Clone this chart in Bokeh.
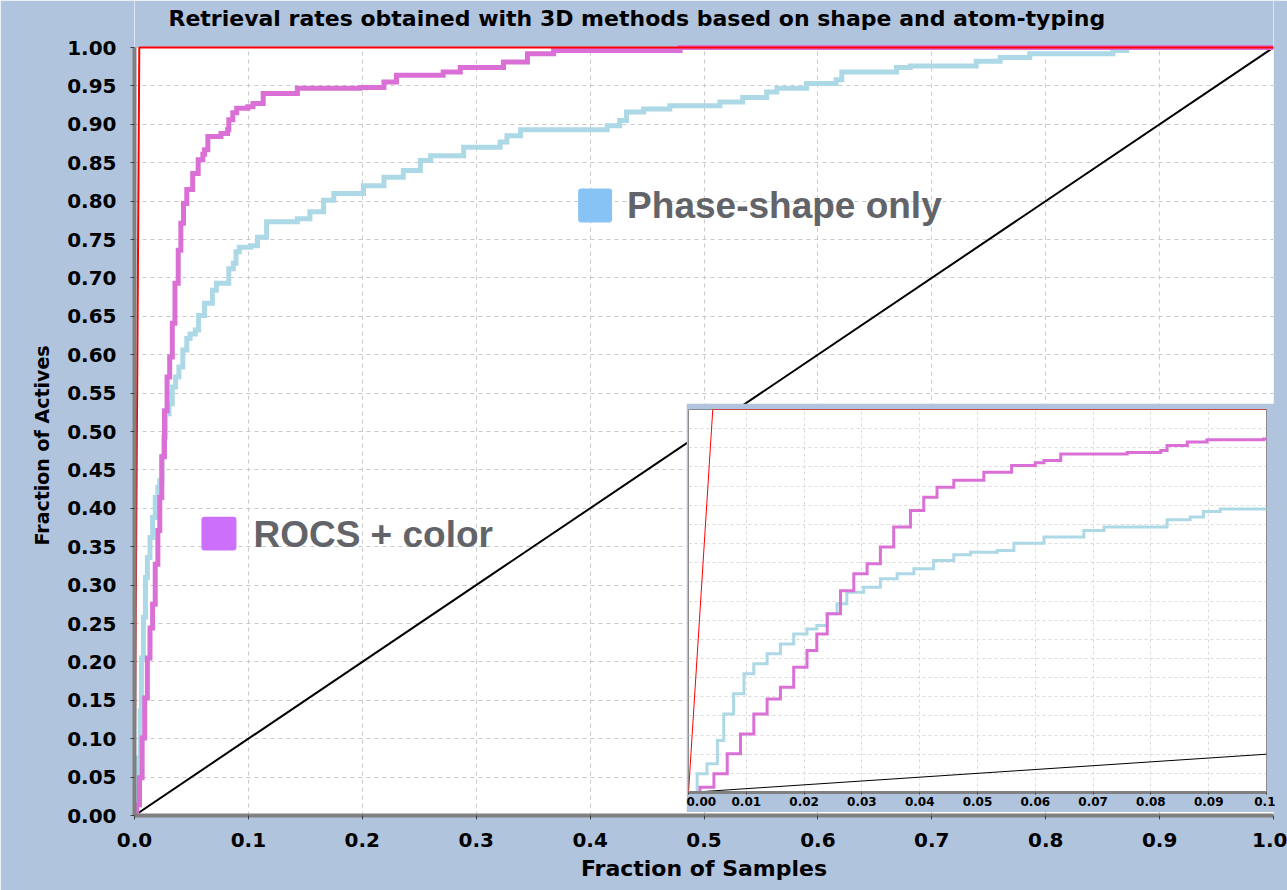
from bokeh.plotting import figure
from bokeh.models import Range1d, FixedTicker, BoxAnnotation, Label, Title
from bokeh.embed import file_html
from bokeh.resources import INLINE

# ---------------- data ----------------
rocs_x = [0.0, 0.002, 0.0044, 0.0067, 0.009, 0.0113, 0.0136, 0.0159, 0.0182, 0.0205,
          0.0222, 0.024, 0.0263, 0.0286, 0.0309, 0.0332, 0.0355, 0.0384, 0.0407, 0.043,
          0.0459, 0.0511, 0.0559, 0.0600, 0.0615, 0.0644, 0.0759, 0.0817, 0.0828, 0.0863,
          0.0897, 0.0995, 0.104, 0.113, 0.143, 0.198, 0.219, 0.230, 0.271, 0.286,
          0.324, 0.345, 0.368, 0.479, 1.0]
rocs_y = [0.0, 0.014, 0.049, 0.101, 0.153, 0.205, 0.244, 0.275, 0.327, 0.371,
          0.414, 0.467, 0.527, 0.571, 0.597, 0.641, 0.693, 0.736, 0.771, 0.797,
          0.815, 0.836, 0.854, 0.861, 0.867, 0.884, 0.888, 0.893, 0.906, 0.915,
          0.921, 0.923, 0.927, 0.940, 0.947, 0.948, 0.955, 0.964, 0.968, 0.974,
          0.981, 0.992, 0.996, 1.0, 1.0]

phase_x = [0.0, 0.0015, 0.0032, 0.005, 0.0061, 0.0078, 0.0096, 0.0113, 0.0136, 0.0159,
           0.0182, 0.0205, 0.0222, 0.024, 0.0257, 0.0274, 0.0303, 0.0332, 0.0361, 0.039,
           0.0424, 0.0459, 0.0488, 0.0534, 0.0563, 0.0615, 0.0684, 0.0719, 0.0828, 0.0868,
           0.0891, 0.092, 0.102, 0.108, 0.116, 0.143, 0.154, 0.166, 0.175, 0.201,
           0.219, 0.236, 0.251, 0.260, 0.289, 0.321, 0.327, 0.339, 0.415, 0.426,
           0.432, 0.447, 0.470, 0.514, 0.534, 0.555, 0.564, 0.590, 0.616, 0.621,
           0.669, 0.681, 0.739, 0.760, 0.786, 0.859, 0.871, 1.0]
phase_y = [0.0, 0.049, 0.075, 0.136, 0.205, 0.258, 0.310, 0.336, 0.362, 0.388,
           0.414, 0.427, 0.436, 0.467, 0.493, 0.523, 0.536, 0.558, 0.571, 0.584,
           0.606, 0.621, 0.627, 0.632, 0.651, 0.667, 0.684, 0.693, 0.712, 0.719,
           0.734, 0.740, 0.742, 0.753, 0.773, 0.777, 0.786, 0.801, 0.810, 0.820,
           0.831, 0.840, 0.853, 0.859, 0.870, 0.877, 0.885, 0.893, 0.898, 0.905,
           0.916, 0.920, 0.924, 0.929, 0.935, 0.942, 0.947, 0.953, 0.958, 0.968,
           0.974, 0.976, 0.982, 0.987, 0.992, 0.996, 1.0, 1.0]

ideal_x = [0.0, 0.0042, 1.0]
ideal_y = [0.0, 1.0, 1.0]
random_x = [0.0, 1.0]
random_y = [0.0, 1.0]

x_ticks = [i / 10 for i in range(11)]
x_tick_labels = ["0.0", "0.1", "0.2", "0.3", "0.4", "0.5", "0.6", "0.7", "0.8", "0.9", "1.0"]
y_ticks = [i / 20 for i in range(21)]
y_tick_labels = ["%.2f" % (i / 20) for i in range(21)]
inset_x_ticks = [i / 100 for i in range(11)]
inset_x_tick_labels = ["0.00", "0.01", "0.02", "0.03", "0.04", "0.05", "0.06", "0.07", "0.08", "0.09", "0.1"]
inset_y_ticks = [i / 20 for i in range(21)]

title_text = "Retrieval rates obtained with 3D methods based on shape and atom-typing"
x_title = "Fraction of Samples"
y_title = "Fraction of Actives"
label_rocs = "ROCS + color"
label_phase = "Phase-shape only"

BG = "#B0C4DE"
MAG = "#DA70D6"
CYAN = "#ADD8E6"

# ---------------- main figure ----------------
# the frame reaches the top of the page; the strip above y = 1 holds the title
Y_TOP = 1.0 + 47 / 768
p = figure(width=1287, height=890, x_range=Range1d(0, 1), y_range=Range1d(0, Y_TOP),
           output_backend="svg", toolbar_location=None,
           min_border_left=134, min_border_right=14, min_border_top=0, min_border_bottom=75,
           background_fill_color="white", border_fill_color=BG, outline_line_color=None)

p.add_layout(BoxAnnotation(bottom=1.0, fill_color=BG, fill_alpha=1, line_color=None,
                           level="underlay"))
p.add_layout(Label(x=0.441, y=1.0378, text=title_text, text_align="center",
                   text_baseline="middle", text_font="DejaVu Sans", text_font_style="bold",
                   text_font_size="22px", text_color="black"))

for ax, ticks, labels in ((p.xaxis[0], x_ticks, x_tick_labels),
                          (p.yaxis[0], y_ticks, y_tick_labels)):
    ax.ticker = FixedTicker(ticks=ticks)
    ax.major_label_overrides = {t: l for t, l in zip(ticks, labels)}
    ax.major_label_text_font = "DejaVu Sans"
    ax.major_label_text_font_style = "bold"
    ax.major_label_text_font_size = "20px"
    ax.major_label_text_color = "black"
    ax.axis_line_color = "#808080"
    ax.axis_line_width = 4
    ax.major_tick_line_color = "#404040"
    ax.major_tick_in = 0
    ax.major_tick_out = 4
    ax.minor_tick_line_color = None
p.xaxis.axis_label = x_title
p.xaxis.axis_label_text_font = "DejaVu Sans"
p.xaxis.axis_label_text_font_style = "bold"
p.xaxis.axis_label_text_font_size = "22px"
p.xaxis.axis_label_text_color = "black"
p.xaxis.major_label_standoff = 13
p.xaxis.axis_label_standoff = 6
p.yaxis.bounds = (0, 1)
p.yaxis.major_label_standoff = 14

# y-axis title (placed as a side title so it can sit where the original has it)
p.add_layout(Title(text=y_title, align="left", offset=270, standoff=24,
                   text_font="DejaVu Sans", text_font_style="bold",
                   text_font_size="19px", text_color="black"), "left")

for g in (p.xgrid[0], p.ygrid[0]):
    g.grid_line_color = "#C8C8C8"
    g.grid_line_dash = "4 4"
    g.grid_line_width = 1
    g.bounds = (0, 1)
p.xgrid.ticker = FixedTicker(ticks=x_ticks)
p.ygrid.ticker = FixedTicker(ticks=y_ticks)

p.line(random_x, random_y, line_color="black", line_width=2)
p.step(phase_x, phase_y, mode="after", line_color=CYAN, line_width=5, line_join="miter")
p.step(rocs_x, rocs_y, mode="after", line_color=MAG, line_width=5, line_join="miter")
p.line(ideal_x, ideal_y, line_color="red", line_width=2)

# annotation squares and texts
p.add_layout(BoxAnnotation(left=0.3895, right=0.4193, bottom=0.7721, top=0.8164,
                           fill_color="#88C3F6", fill_alpha=1, line_color=None, border_radius=3))
p.add_layout(BoxAnnotation(left=0.0588, right=0.0895, bottom=0.345, top=0.389,
                           fill_color="#CC6FFA", fill_alpha=1, line_color=None, border_radius=3))
p.add_layout(Label(x=0.4325, y=0.794, text=label_phase, text_baseline="middle",
                   text_font="Liberation Sans", text_font_style="bold",
                   text_font_size="37px", text_color="#636469"))
p.add_layout(Label(x=0.1044, y=0.366, text=label_rocs, text_baseline="middle",
                   text_font="Liberation Sans", text_font_style="bold",
                   text_font_size="37px", text_color="#636469"))

# ---------------- inset figure ----------------
ins = figure(width=589, height=409, x_range=Range1d(0, 0.1), y_range=Range1d(0, 1),
             output_backend="svg", toolbar_location=None, y_axis_location=None,
             min_border_left=2, min_border_right=9, min_border_top=6, min_border_bottom=20,
             background_fill_color="white", border_fill_color=BG,
             outline_line_color="#8C8C8C", outline_line_width=1)
ins.xaxis.ticker = FixedTicker(ticks=inset_x_ticks)
ins.xaxis.major_label_overrides = {t: l for t, l in zip(inset_x_ticks, inset_x_tick_labels)}
ins.xaxis.major_label_text_font = "DejaVu Sans"
ins.xaxis.major_label_text_font_style = "bold"
ins.xaxis.major_label_text_font_size = "12px"
ins.xaxis.major_label_text_color = "black"
ins.xaxis.axis_line_color = "#808080"
ins.xaxis.axis_line_width = 3
ins.xaxis.major_tick_line_color = "#404040"
ins.xaxis.major_tick_in = 0
ins.xaxis.major_tick_out = 2
ins.xaxis.minor_tick_line_color = None
ins.xaxis.major_label_standoff = 2
for g in (ins.xgrid[0], ins.ygrid[0]):
    g.grid_line_color = "#DADADA"
    g.grid_line_dash = "3 3"
    g.grid_line_width = 1
ins.xgrid.ticker = FixedTicker(ticks=inset_x_ticks)
ins.ygrid.ticker = FixedTicker(ticks=inset_y_ticks)

ins.line(random_x, random_y, line_color="black", line_width=1)
ins.step(phase_x, phase_y, mode="after", line_color=CYAN, line_width=3, line_join="miter")
ins.step(rocs_x, rocs_y, mode="after", line_color=MAG, line_width=3, line_join="miter")
ins.line(ideal_x, ideal_y, line_color="red", line_width=1)

ins.styles = {"position": "absolute", "left": "686px", "top": "403px", "z-index": "10"}

open("out.html", "w").write(file_html([p, ins], INLINE))
